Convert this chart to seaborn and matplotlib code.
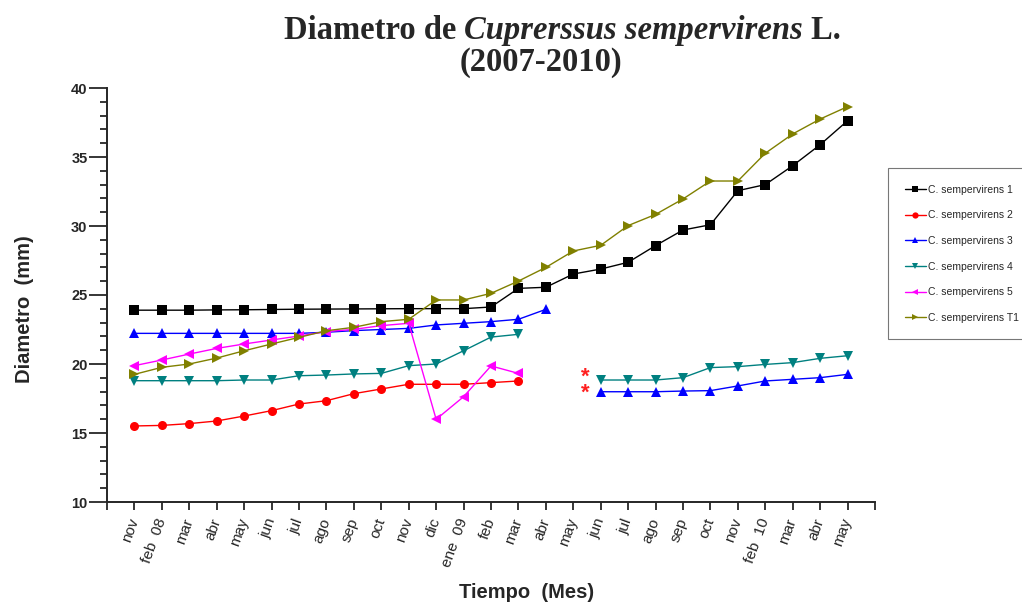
import numpy as np
import pandas as pd
import matplotlib
matplotlib.use("Agg")
import matplotlib.pyplot as plt
import seaborn as sns
from matplotlib.lines import Line2D
from matplotlib.ticker import MultipleLocator

# ---------------- data ----------------
months = ["nov", "feb  08", "mar", "abr", "may", "jun", "jul", "ago", "sep", "oct",
          "nov", "dic", "ene  09", "feb", "mar", "abr", "may", "jun", "jul", "ago",
          "sep", "oct", "nov", "feb  10", "mar", "abr", "may"]

s1 = [23.90, 23.90, 23.90, 23.92, 23.93, 23.95, 23.97, 23.98, 23.99, 24.00, 24.01,
      24.01, 24.01, 24.13, 25.48, 25.56, 26.52, 26.88, 27.37, 28.58, 29.71, 30.09,
      32.56, 33.00, 34.37, 35.89, 37.63]
s2 = [15.51, 15.55, 15.68, 15.87, 16.23, 16.62, 17.10, 17.34, 17.85, 18.19, 18.53,
      18.53, 18.53, 18.65, 18.77] + [None] * 12
s3 = [22.22, 22.22, 22.22, 22.22, 22.22, 22.22, 22.22, 22.30, 22.42, 22.50, 22.58,
      22.83, 22.95, 23.07, 23.24, 23.96, None, 17.99, 17.99, 17.99, 18.04, 18.07,
      18.41, 18.77, 18.89, 19.01, 19.25]
s4 = [18.79, 18.79, 18.79, 18.79, 18.84, 18.84, 19.15, 19.20, 19.28, 19.32, 19.88,
      20.00, 20.96, 21.95, 22.15, None, None, 18.84, 18.84, 18.84, 19.01, 19.74,
      19.81, 19.97, 20.10, 20.41, 20.60]
s5 = [19.88, 20.29, 20.72, 21.13, 21.45, 21.74, 22.03, 22.35, 22.51, 22.78, 22.95,
      15.99, 17.63, 19.86, 19.32] + [None] * 12
sT1 = [19.25, 19.76, 20.00, 20.43, 20.96, 21.45, 21.93, 22.41, 22.66, 23.07, 23.24,
       24.64, 24.64, 25.12, 26.01, 27.00, 28.19, 28.60, 30.03, 30.84, 31.96, 33.26,
       33.26, 35.27, 36.67, 37.75, 38.65]

series_names = ["C. sempervirens 1", "C. sempervirens 2", "C. sempervirens 3",
                "C. sempervirens 4", "C. sempervirens 5", "C. sempervirens T1"]
series_values = [s1, s2, s3, s4, s5, sT1]
colors = ["#000000", "#FF0000", "#0000FF", "#008080", "#FF00FF", "#808000"]
markers = ["s", "o", "^", "v", "<", ">"]

# asterisks marking re-measured series (pos, value)
star_pos = [17.45, 17.45]
star_val = [19.08, 17.83]

# ---------------- long-form table ----------------
rows = []
for name, vals in zip(series_names, series_values):
    seg = 0
    prev_none = False
    for i, v in enumerate(vals):
        if v is None:
            prev_none = True
            continue
        if prev_none:
            seg += 1
            prev_none = False
        rows.append({"serie": name, "pos": i + 1, "valor": v, "seg": f"{name}-{seg}"})
df = pd.DataFrame(rows)

# ---------------- figure ----------------
sns.set_style("ticks")
plt.rcParams["font.family"] = ["Liberation Sans", "DejaVu Sans"]

fig = plt.figure(figsize=(10.22, 6.05), dpi=100)
ax = fig.add_axes([107 / 1022, 1 - 502 / 605, (875 - 107) / 1022, (502 - 88) / 605])

sns.lineplot(data=df, x="pos", y="valor", hue="serie", style="serie", units="seg",
             estimator=None, palette=dict(zip(series_names, colors)),
             markers=dict(zip(series_names, markers)), dashes=False,
             markersize=6.5, markeredgewidth=0, linewidth=1.0, legend=False, ax=ax,
             sort=False)

# the two asterisks drawn as one stacked text block
ax.text(np.mean(star_pos), np.mean(star_val), "\n".join("*" for _ in star_val),
        color="#FF2020", fontsize=16, fontweight="bold", ha="center", va="center",
        linespacing=0.68)

ax.set_xlim(0, 28)
ax.set_ylim(10, 40)
ax.set_xticks(range(0, 29))
ax.set_xticklabels([""] + months + [""], rotation=70, ha="right",
                   rotation_mode="anchor", fontsize=11)
for lab in ax.get_xticklabels():
    lab.set_va("center")
ax.yaxis.set_major_locator(MultipleLocator(5))
ax.yaxis.set_minor_locator(MultipleLocator(1))
ax.tick_params(axis="y", which="major", length=13, width=1.3, labelsize=10.5, pad=1)
ax.tick_params(axis="y", which="minor", length=5, width=1.3)
ax.tick_params(axis="x", which="major", length=6, width=1.3, pad=6)
for lab in ax.get_yticklabels():
    lab.set_fontweight("bold")
sns.despine(ax=ax)
for sp in ["left", "bottom"]:
    ax.spines[sp].set_linewidth(1.4)

ax.set_xlabel("Tiempo  (Mes)", fontsize=14.5, fontweight="bold")
ax.set_ylabel("Diametro  (mm)", fontsize=14.5, fontweight="bold")
ax.xaxis.set_label_coords((527 - 107) / 768, -(583 - 502) / 414)
ax.yaxis.set_label_coords(-(107 - 34) / 768, (502 - 309) / 414)

handles = [Line2D([0], [0], color=c, marker=m, markersize=4.5, lw=1.0,
                  markeredgewidth=0) for c, m in zip(colors, markers)]
leg = fig.legend(handles, series_names, loc="upper left",
                 bbox_to_anchor=(888 / 1022, 1 - 168 / 605), frameon=True,
                 fancybox=False, handlelength=2.0, handletextpad=0.25,
                 labelspacing=1.5, borderpad=1.6, borderaxespad=0,
                 prop={"family": "Liberation Sans", "size": 7.5})
leg.get_frame().set_edgecolor("#555555")
leg.get_frame().set_linewidth(0.8)

# ---------------- title with italic species name ----------------
serif = ["Liberation Serif", "DejaVu Serif"]
pieces = [("Diametro de ", "normal"), ("Cuprerssus sempervirens", "italic"), (" L.", "normal")]
fig.canvas.draw()
renderer = fig.canvas.get_renderer()
texts = []
for txt, style in pieces:
    t = fig.text(0, 0, txt, family=serif, fontsize=23.5, fontweight="bold",
                 fontstyle=style, va="baseline", ha="left")
    texts.append(t)
widths = [t.get_window_extent(renderer).width for t in texts]
total = sum(widths)
x0 = 562 - total / 2
ybase = 1 - 39 / 605
x = x0
for t, w in zip(texts, widths):
    t.set_position((x / 1022, ybase))
    x += w
fig.text(541 / 1022, 1 - 71 / 605, "(2007-2010)", family=serif, fontsize=23.5,
         fontweight="bold", ha="center", va="baseline")

fig.savefig("out.png", dpi=100)
